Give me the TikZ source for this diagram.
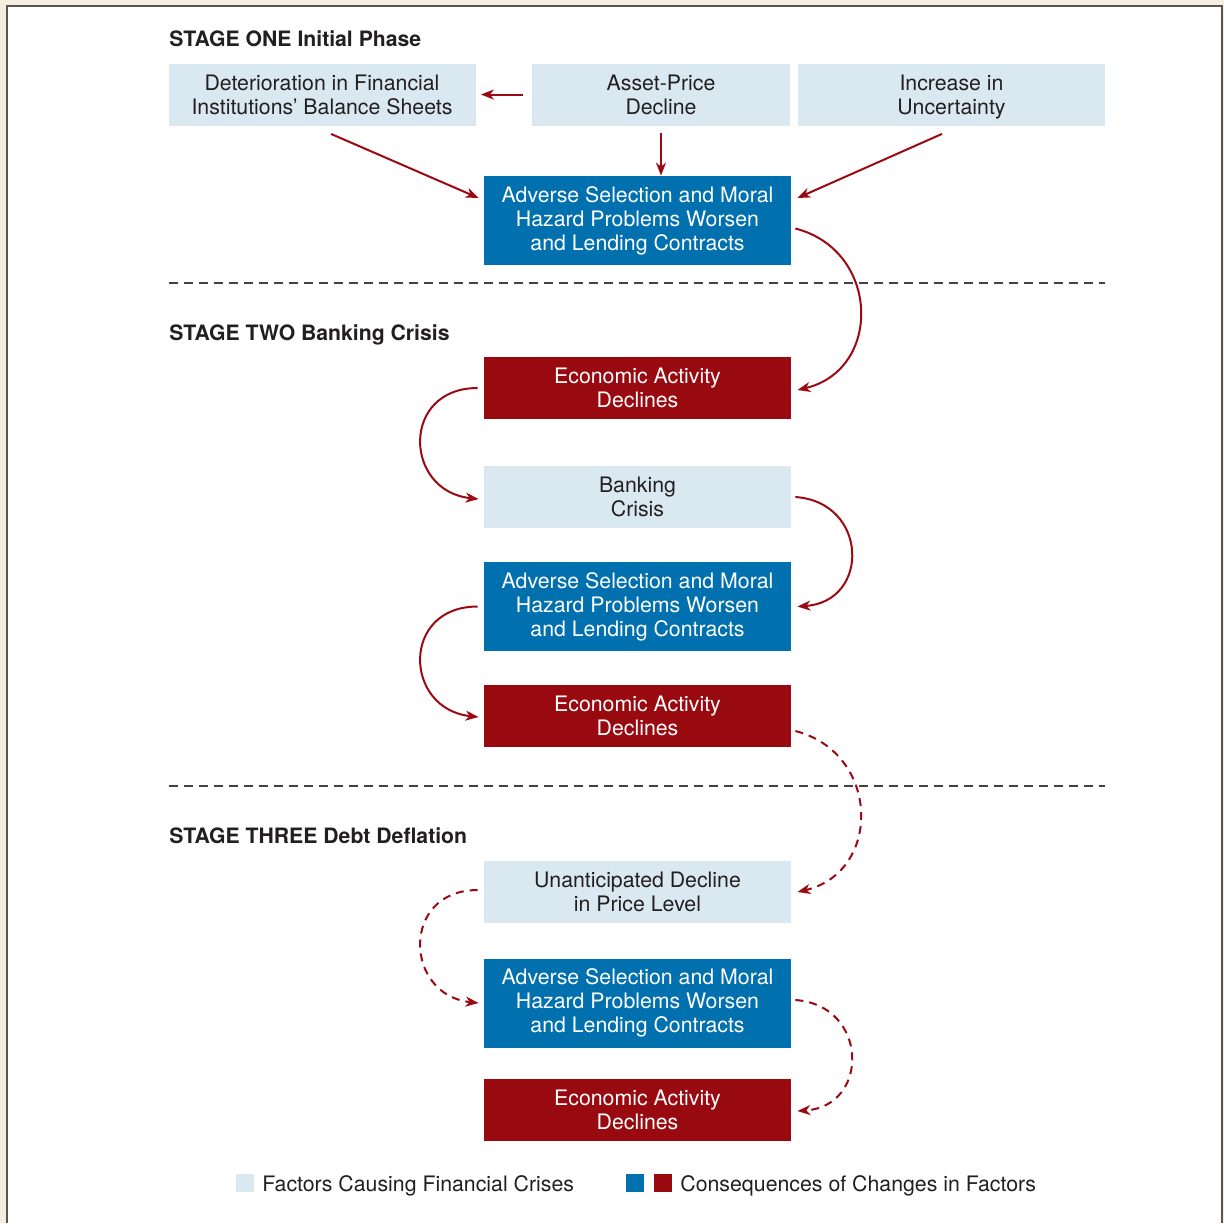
\documentclass[tikz,border=0pt]{standalone}
\usepackage{fontspec}
\setmainfont{TeX Gyre Heros}
\usepackage{xcolor}
\usepackage{tikz}
\usetikzlibrary{arrows.meta, positioning, calc}
\definecolor{factorcolor}{HTML}{D9E8F1}
\definecolor{advcolor}{HTML}{0070AF}
\definecolor{econcolor}{HTML}{990A10}
\definecolor{arrowcolor}{HTML}{9B0A12}
\definecolor{pagecolor}{HTML}{F4EDE0}
\definecolor{inkcolor}{HTML}{231F20}
\definecolor{framecolor}{HTML}{5A554F}

\begin{document}
\begin{tikzpicture}[x=0.5pt, y=-0.5pt, font=\fontsize{10.65}{12}\selectfont, text=inkcolor,
    factor/.style={fill=factorcolor, align=center, minimum width=153.5pt, minimum height=31pt, inner sep=0pt, text depth=0pt},
    advbox/.style={fill=advcolor, text=white, align=center, minimum width=153.5pt, minimum height=44.5pt, inner sep=0pt},
    econbox/.style={fill=econcolor, text=white, align=center, minimum width=153.5pt, minimum height=31pt, inner sep=0pt},
    stagetitle/.style={anchor=west, inner sep=0pt, text depth=0pt, font=\fontsize{10.6}{12}\selectfont\bfseries},
    keytext/.style={anchor=west, inner sep=0pt, text depth=0pt},
    flow/.style={-{Stealth[length=6.5pt, width=5pt, inset=2pt]}, arrowcolor, line width=1pt},
    flowdash/.style={flow, dash pattern=on 4pt off 3pt},
    divider/.style={line width=1pt, inkcolor!85, dash pattern=on 4.5pt off 3pt},
    keybox/.style={minimum size=9pt, inner sep=0pt}]

    % Page and panel
    \useasboundingbox (0,0) rectangle (1224,1223);
    \fill[pagecolor] (0,0) rectangle (1224,1223);
    \fill[white] (7,6) rectangle (1222,1223);
    \draw[framecolor, line width=1.2pt] (7,1223) -- (7,6) -- (1222,6) -- (1222,1223);

    % Stage one
    \node[stagetitle] (stageone) at (169,39) {STAGE ONE Initial Phase};
    \node[factor] (detbox) at (322,94.5) {Deterioration in Financial\\Institutions' Balance Sheets};
    \node[factor, minimum width=129pt] (assetbox) at (661,94.5) {Asset-Price\\Decline};
    \node[factor] (uncbox) at (951.5,94.5) {Increase in\\Uncertainty};
    \node[advbox] (adv1) at (637.5,220.5) {Adverse Selection and Moral\\Hazard Problems Worsen\\and Lending Contracts};

    \draw[flow, shorten <=4.5pt, shorten >=2.5pt] (assetbox.west) -- (detbox.east);
    \draw[flow] ([xshift=4.5pt,yshift=-4pt]detbox.south) -- ([xshift=-2.5pt,yshift=11.25pt]adv1.west);
    \draw[flow, shorten <=3.5pt] (assetbox.south) -- (assetbox.south |- adv1.north);
    \draw[flow] ([xshift=-4.75pt,yshift=-4pt]uncbox.south) -- ([xshift=3pt,yshift=11.25pt]adv1.east);

    \draw[divider] (169,283) -- (1105,283);

    % Stage two
    \node[stagetitle] (stagetwo) at (169,333) {STAGE TWO Banking Crisis};
    \node[econbox] (econ1) at (637.5,388) {Economic Activity\\Declines};
    \node[factor] (bank) at (637.5,497) {Banking\\Crisis};
    \node[advbox] (adv2) at (637.5,606.5) {Adverse Selection and Moral\\Hazard Problems Worsen\\and Lending Contracts};
    \node[econbox] (econ2) at (637.5,716) {Economic Activity\\Declines};

    \draw[flow] ([xshift=2pt,yshift=-4pt]adv1.east) .. controls +(85,22) and +(85,-20) .. ([xshift=3pt,yshift=-1pt]econ1.east);
    \draw[flow] ([xshift=-3pt]econ1.west) .. controls +(-77,0) and +(-75,-8) .. ([xshift=-2.5pt,yshift=-1pt]bank.west);
    \draw[flow] ([xshift=2pt]bank.east) .. controls +(73,5) and +(73,-5) .. ([xshift=3pt]adv2.east);
    \draw[flow] ([xshift=-3pt]adv2.west) .. controls +(-77,0) and +(-75,-8) .. ([xshift=-2.5pt,yshift=-0.5pt]econ2.west);

    \draw[divider] (169,786) -- (1105,786);

    % Stage three
    \node[stagetitle] (stagethree) at (169,836) {STAGE THREE Debt Deflation};
    \node[factor] (pricebox) at (637.5,892) {Unanticipated Decline\\in Price Level};
    \node[advbox] (adv3) at (637.5,1003) {Adverse Selection and Moral\\Hazard Problems Worsen\\and Lending Contracts};
    \node[econbox] (econ3) at (637.5,1110) {Economic Activity\\Declines};

    \draw[flowdash] ([xshift=2pt,yshift=-7.5pt]econ2.east) .. controls +(85,22) and +(85,-20) .. ([xshift=3pt]pricebox.east);
    \draw[flowdash] ([xshift=-3pt,yshift=1pt]pricebox.west) .. controls +(-77,0) and +(-75,-8) .. ([xshift=-2.5pt]adv3.west);
    \draw[flowdash] ([xshift=2pt,yshift=1.5pt]adv3.east) .. controls +(73,5) and +(73,-5) .. ([xshift=3pt,yshift=-0.5pt]econ3.east);

    % Legend
    \node[keybox, fill=factorcolor] (keyfactor) at (245,1183) {};
    \node[keytext] (keyfactortext) at (262,1184) {Factors Causing Financial Crises};
    \node[keybox, fill=advcolor] (keyadv) at (634.5,1183) {};
    \node[keybox, fill=econcolor] (keyecon) at (662.5,1183) {};
    \node[keytext] (keyecontext) at (680,1184) {Consequences of Changes in Factors};

\end{tikzpicture}
\end{document}
